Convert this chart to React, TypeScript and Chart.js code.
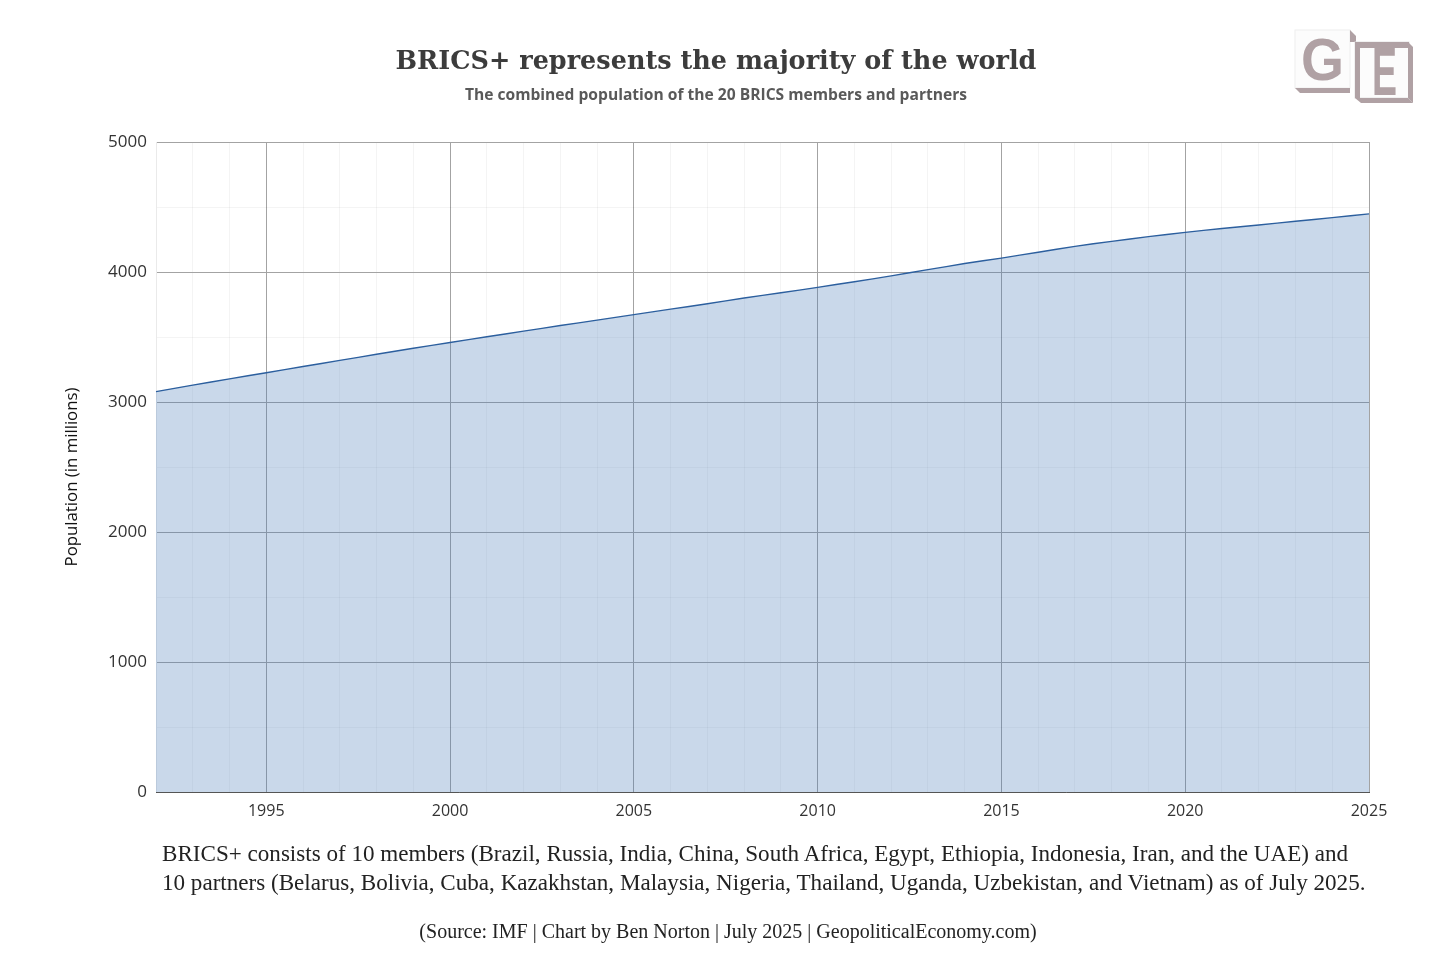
import React, { useEffect, useRef } from 'react';
import { Chart, registerables } from 'chart.js';

Chart.register(...registerables);

const years = [
  1992, 1993, 1994, 1995, 1996, 1997, 1998, 1999, 2000, 2001, 2002, 2003,
  2004, 2005, 2006, 2007, 2008, 2009, 2010, 2011, 2012, 2013, 2014, 2015,
  2016, 2017, 2018, 2019, 2020, 2021, 2022, 2023, 2024, 2025,
];

const population = [
  3080, 3130, 3178, 3225, 3273, 3320, 3367, 3413, 3458, 3502, 3545, 3588,
  3630, 3672, 3714, 3756, 3800, 3840, 3882, 3925, 3970, 4018, 4065, 4107,
  4152, 4197, 4236, 4272, 4305, 4335, 4362, 4390, 4418, 4447,
];

const TICK_FONT = '"Open Sans", sans-serif';
const MAJOR = '#a3a3a3';
const MINOR = 'rgba(0, 0, 0, 0.045)';

const textBase: React.CSSProperties = { position: 'absolute', whiteSpace: 'nowrap', margin: 0 };

// logo in the top right corner
function Logo() {
  const c = '#b0a1a4';
  const sans = '"Liberation Sans", sans-serif';
  return (
    <svg width={130} height={85} viewBox="0 0 130 85" style={{ position: 'absolute', left: 1290, top: 25 }}>
      <rect x={5} y={5} width={55} height={58} fill="#fcfcfc" stroke="#eeeeee" />
      <polygon points="5,63 60,63 60,68 10,68" fill={c} />
      <text x={11} y={55} fontFamily={sans} fontWeight={700} fontSize={60} fill={c} textLength={43} lengthAdjust="spacingAndGlyphs">G</text>
      <polygon points="60,5 66,11 66,17 60,17" fill={c} />
      <rect x={65} y={17} width={54} height={56} fill="#fcfcfc" stroke="#e4e4e4" />
      <rect x={65} y={17} width={54} height={6} fill={c} />
      <rect x={65} y={17} width={5} height={56} fill={c} />
      <polygon points="118,17 123,22 123,78 118,73" fill={c} />
      <polygon points="65,73 118,73 123,78 71,78" fill={c} />
      <text x={82} y={70} fontFamily={sans} fontWeight={700} fontSize={68} fill={c} textLength={25} lengthAdjust="spacingAndGlyphs">E</text>
    </svg>
  );
}

export default function App() {
  const canvasRef = useRef<HTMLCanvasElement>(null);
  const chartRef = useRef<Chart | null>(null);

  useEffect(() => {
    document.body.style.margin = '0';
    document.body.style.background = '#ffffff';
    const ctx = canvasRef.current?.getContext('2d');
    if (!ctx) return;

    chartRef.current = new Chart(ctx, {
      type: 'line',
      data: {
        labels: years.map(String),
        datasets: [{
          label: 'BRICS+',
          data: population,
          borderColor: '#2c5f9e',
          borderWidth: 1.4,
          backgroundColor: 'rgba(68, 122, 184, 0.29)',
          fill: 'origin',
          pointRadius: 0,
          tension: 0.2,
        }],
      },
      options: {
        animation: false,
        responsive: true,
        maintainAspectRatio: false,
        layout: { padding: { left: 60, top: 142, right: 87, bottom: 139 } },
        plugins: { legend: { display: false }, tooltip: { enabled: false } },
        scales: {
          x: {
            type: 'category',
            afterFit: (scale: any) => { scale.height = 40; },
            border: { color: '#555555', width: 1 },
            grid: {
              drawTicks: false,
              color: (c: any) => (years[c.index] % 5 === 0 ? MAJOR : MINOR),
            },
            ticks: {
              autoSkip: false,
              maxRotation: 0,
              padding: 10,
              color: '#333333',
              font: { family: TICK_FONT, size: 16 },
              callback: (_v: any, i: number) => (years[i] % 5 === 0 ? String(years[i]) : ''),
            },
          },
          y: {
            min: 0,
            max: 5000,
            afterFit: (scale: any) => { scale.width = 96; },
            border: { color: MINOR },
            grid: {
              drawTicks: false,
              color: (c: any) => (c.tick && c.tick.value % 1000 === 0 ? MAJOR : MINOR),
            },
            ticks: {
              stepSize: 500,
              padding: 9,
              color: '#333333',
              font: { family: TICK_FONT, size: 17 },
              callback: (v: any) => (Number(v) % 1000 === 0 ? String(v) : ''),
            },
          },
        },
      },
    });

    return () => {
      if (chartRef.current) {
        chartRef.current.destroy();
        chartRef.current = null;
      }
    };
  }, []);

  return (
    <div style={{ position: 'relative', width: 1456, height: 971, overflow: 'hidden' }}>
      <div style={{ position: 'absolute', left: 0, top: 0, width: 1456, height: 971 }}>
        <canvas ref={canvasRef} />
      </div>
      <h1 style={{ ...textBase, left: 0, width: 1432, textAlign: 'center', top: 42, fontFamily: '"DejaVu Serif", serif', fontWeight: 700, fontSize: 25.5, lineHeight: '36px', color: '#3c3c3c' }}>
        BRICS+ represents the majority of the world
      </h1>
      <div style={{ ...textBase, left: 0, width: 1432, textAlign: 'center', top: 83, fontFamily: TICK_FONT, fontWeight: 700, fontSize: 15.6, lineHeight: '22px', color: '#595959' }}>
        The combined population of the 20 BRICS members and partners
      </div>
      <div style={{ ...textBase, left: -29, top: 465, width: 200, textAlign: 'center', transform: 'rotate(-90deg)', fontFamily: TICK_FONT, fontSize: 16.8, lineHeight: '24px', color: '#111111' }}>
        Population (in millions)
      </div>
      <div style={{ ...textBase, left: 162, top: 838, fontFamily: '"Liberation Serif", serif', fontSize: 23.1, lineHeight: '30px', color: '#222222' }}>
        BRICS+ consists of 10 members (Brazil, Russia, India, China, South Africa, Egypt, Ethiopia, Indonesia, Iran, and the UAE) and
      </div>
      <div style={{ ...textBase, left: 162, top: 867, fontFamily: '"Liberation Serif", serif', fontSize: 23.1, lineHeight: '30px', color: '#222222' }}>
        10 partners (Belarus, Bolivia, Cuba, Kazakhstan, Malaysia, Nigeria, Thailand, Uganda, Uzbekistan, and Vietnam) as of July 2025.
      </div>
      <div style={{ ...textBase, left: 0, width: 1456, textAlign: 'center', top: 920, fontFamily: '"Liberation Serif", serif', fontSize: 20, lineHeight: '22px', color: '#222222' }}>
        (Source: IMF | Chart by Ben Norton | July 2025 | GeopoliticalEconomy.com)
      </div>
      <Logo />
    </div>
  );
}
